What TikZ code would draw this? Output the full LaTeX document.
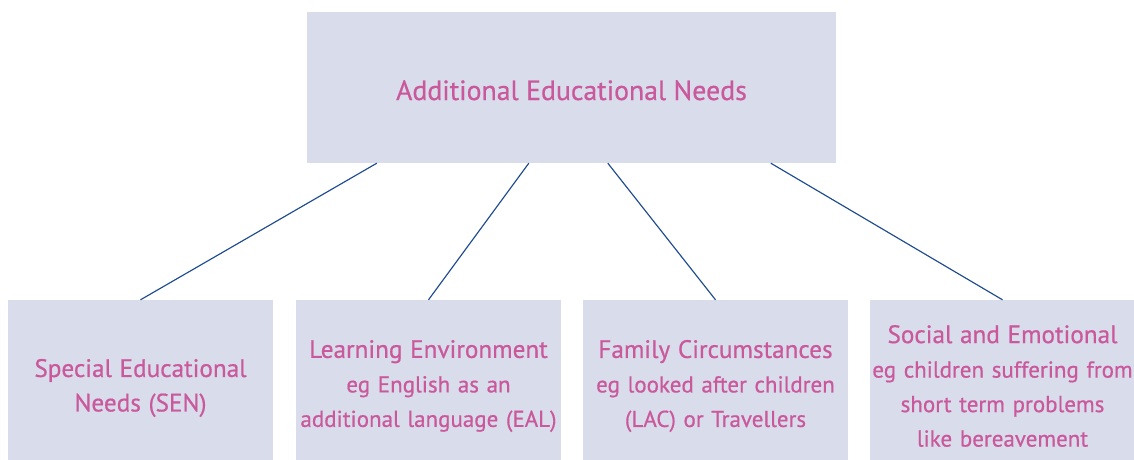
\documentclass[tikz,border=0pt]{standalone}
\usepackage{fontspec}
\setmainfont{PT Sans}[FakeBold=0.6]
\usetikzlibrary{calc}
\definecolor{boxfill}{HTML}{D9DCEA}
\definecolor{txtpink}{HTML}{CA589D}
\definecolor{linkblue}{HTML}{1E4A90}
\newcommand{\boxtitle}[1]{{\fontsize{25.2}{34.5}\selectfont #1}}
\tikzset{
  topbox/.style={fill=boxfill, draw=none, minimum width=529pt, minimum height=151pt, inner sep=0pt,
    text=txtpink, font=\fontsize{27.8}{35}\selectfont, text height=30pt, text depth=5pt},
  subbox/.style={fill=boxfill, draw=none, minimum width=265pt, text width=265pt, minimum height=172pt, inner sep=0pt,
    text=txtpink, font=\fontsize{23}{34.5}\selectfont, align=center},
  link/.style={draw=linkblue, line width=1.15pt}
}
\begin{document}
\begin{tikzpicture}[x=1pt,y=-1pt]
\useasboundingbox (0,0) rectangle (1134,460);
\fill[white] (0,0) rectangle (1134,460);
\node[topbox] (top) at (571.5,87.5) {Additional Educational Needs};
\node[subbox, minimum height=176pt] (sen) at (140.5,388) {\boxtitle{Special Educational}\\\boxtitle{Needs (SEN)}};
\node[subbox] (le) at (428.5,386) {\boxtitle{Learning Environment}\\eg English as an\\additional language (EAL)};
\node[subbox] (fc) at (715.5,386) {\boxtitle{Family Circumstances}\\eg looked after children\\(LAC) or Travellers};
\node[subbox] (se) at (1002.5,386) {\boxtitle{Social and Emotional}\\eg children suffering from\\short term problems\\like bereavement};
\coordinate (t1) at ($(top.south west)+(70,0)$);
\coordinate (t2) at ($(top.south west)+(222,0)$);
\coordinate (t3) at ($(top.south west)+(301,0)$);
\coordinate (t4) at ($(top.south west)+(464,0)$);
\draw[link] (t1) -- (sen.north);
\draw[link] (t2) -- (le.north);
\draw[link] (t3) -- (fc.north);
\draw[link] (t4) -- (se.north);
\end{tikzpicture}
\end{document}
